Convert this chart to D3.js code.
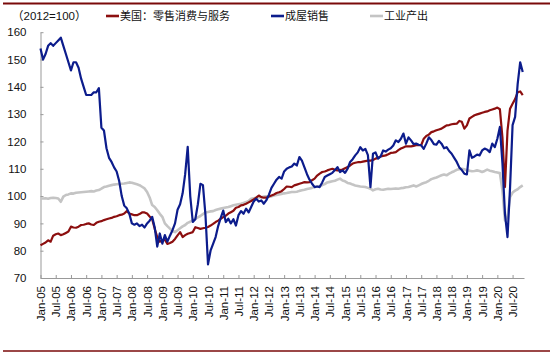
<!DOCTYPE html>
<html><head><meta charset="utf-8">
<script src="https://cdn.jsdelivr.net/npm/d3@7"></script>
<style>
html,body{margin:0;padding:0;background:#fff;}
svg{display:block;}
</style></head>
<body>
<svg id="c" width="550" height="355"></svg>
<script>
// Monthly data, Jan-2005 .. Nov-2020 (2012=100)
const tickLabels = ["Jan-05","Jul-05","Jan-06","Jul-06","Jan-07","Jul-07","Jan-08","Jul-08","Jan-09","Jul-09","Jan-10","Jul-10","Jan-11","Jul-11","Jan-12","Jul-12","Jan-13","Jul-13","Jan-14","Jul-14","Jan-15","Jul-15","Jan-16","Jul-16","Jan-17","Jul-17","Jan-18","Jul-18","Jan-19","Jul-19","Jan-20","Jul-20"];
const yTicks = [70,80,90,100,110,120,130,140,150,160];
const seriesNames = ["美国：零售消费与服务","成屋销售","工业产出"];

const retail = [
 82,82.5,83,83.8,83.3,85.5,86,86.3,85.7,86,
 86.5,87,88.8,88.5,88.4,88.8,89.4,89.5,89.8,90,
 89.6,89.4,90.2,90.6,90.8,91.2,91.5,91.8,92,92.4,
 92.6,93,93.2,93.6,94.5,93.6,93.3,93,93,93.4,
 94,94,93.6,92.5,91.5,88,85,83.3,83.8,84,
 82.5,82.8,83.3,84.3,85.6,86.8,85,85.7,86.2,86.5,
 86.8,88.6,88.3,88,88.2,88.4,88.7,89.2,89.8,90.5,
 91,91.7,92.3,92.8,93.6,94.1,94.6,95.7,96,96.6,
 96.8,97.2,97.7,98.2,98.8,99.4,100.2,99.6,99.4,99.4,
 99.8,100.2,100.6,101.1,101.4,101.8,102.6,103.5,103.4,103.3,
 103.9,104.2,104.5,104.8,105.1,105,105.1,105.8,106.4,107.5,
 108.2,108.8,109,109.4,109.7,110,109.6,109.4,109.5,109.7,
 110.2,110.6,111.2,111.9,112.2,112.4,112.4,112.6,112.8,113,
 113,113.2,113.7,114,114.5,114.7,114.9,115.3,115.8,115.9,
 116.1,116.8,117.4,117.8,118.2,118.2,118.2,118.4,118.6,118.6,
 118.6,121,122,122.5,123.4,123.7,124.1,124.4,124.7,125.3,
 125.9,126,126.3,126.4,126.5,127.5,127.2,124.7,125.9,128.4,
 129,129.6,129.9,130.2,130.5,130.8,131,131.4,131.7,132,
 132.4,131.8,121.5,103.3,124,132,133.8,135.5,138,138.3,
 137];

const homeSales = [
 154,150,152,155,156,155,156,157,158,155,
 152,149,146,149,149,147,143,140,137,137,
 137,138,138,139.5,125,124,117.5,114,112.5,110.5,
 109,105.5,100,96.5,95.5,93.5,90,89.5,90,89,
 89.5,88.5,90,91,92.4,88.5,81.5,86.3,82.6,85.7,
 83.3,85.5,87.5,90,95,97,101,108,118,100,
 90.5,91.5,97,104.5,104,93,75,80,82.5,85,
 89,92,94.7,90.5,91.7,90,91.5,89.2,93,94.5,
 93.5,95.4,94,96,98,99,98,98.4,97.2,98.5,
 100.5,103,104.5,106,107,106.4,109,110,110.5,110.8,
 111.9,111.2,114.3,113,110.5,108,106,104.5,103.3,103.5,
 103.3,105,107,107.5,108,108.5,109.5,110.6,108.8,109.4,
 108.5,110,112.5,113.5,114.9,116,117.9,116.7,117.3,115,
 103.3,115.5,116,113.7,114.5,116.7,116.3,117,117.5,118.5,
 120.4,119.8,121,122.9,119.2,121.5,120.4,119,119.2,118.8,
 118.6,117.3,119.2,121.5,120.5,119,118.8,120.2,119.2,117.5,
 117.9,116.5,115.5,114,112.5,110.5,109.5,108.2,107.9,116.7,
 114,114.5,115.2,114.9,116.7,117.4,117,116.1,119.2,117.9,
 121,125.3,112,93.5,85,103,126,129,141,149,
 145.4];

const industrial = [
 99.1,99.1,99.2,99,99.3,99.4,99.3,99.1,97.9,99.8,
 100.4,100.6,101,100.9,101.2,101.3,101.4,101.5,101.6,101.7,
 101.8,101.7,102,102.2,102.7,103.3,103.5,103.8,104,104.2,
 104.3,104.4,104.5,104.6,104.8,105,104.9,104.6,104.3,104,
 103.4,102.8,101.5,99.5,96.7,96,94.8,93.5,92.4,90,
 89,88.1,87.2,86.8,87.5,88.2,88.9,89.4,90.2,90.6,
 91.2,91.7,92.2,92.7,93.4,94,94.2,94.4,94.5,94.9,
 95.2,95.4,95.6,95.8,96,96.3,96.6,96.8,97,97.2,
 97.5,97.8,98.2,99,99.2,99.4,99.5,99.6,99.8,99.9,
 99.8,99.9,100.2,100.4,100.6,100.8,101,101.1,101.3,101.5,
 101.5,101.6,101.9,102.1,102.3,102.6,102.8,103,103.3,103.5,
 103.7,104,104.4,105,105.2,105.4,105.6,106,106.4,105.7,
 105.4,104.8,104.6,104.2,103.9,103.7,103.5,103.4,103.3,103,
 102.7,102.1,102.5,102.7,102.4,102.3,102.5,102.7,102.6,102.7,
 102.8,102.7,102.9,103,103.2,103.3,103.6,103.9,103.5,103.9,
 104.4,104.8,105.1,105.6,106.2,106.5,106.8,107.2,107.6,107.9,
 107.6,108.2,108.7,109.1,109.6,109.8,110,109.8,109.4,109.3,
 109.1,109.2,109.4,109.2,108.8,109.2,109.7,109.3,109.1,108.8,
 108.6,108.4,102.1,91.1,92.5,99.6,101.3,102,102.5,103.3,
 103.9];

const colors = ["#8c0f0f","#0c1c8c","#c4c4c4"];
const svg = d3.select("#c");
const FONT = "'Liberation Sans', Arial, 'Noto Sans CJK SC', sans-serif";

// frame rules
svg.append("line").attr("x1",3).attr("x2",550).attr("y1",3.5).attr("y2",3.5)
  .attr("stroke","#7a0a0a").attr("stroke-width",2);
svg.append("line").attr("x1",3).attr("x2",550).attr("y1",351).attr("y2",351)
  .attr("stroke","#7a0a0a").attr("stroke-width",1.5);

const x = d3.scaleLinear().domain([0,190.5]).range([40.5,524]);
const y = d3.scaleLinear().domain([70,160]).range([278,32.2]);

// Y axis
const yAxis = svg.append("g").attr("transform","translate(40.5,0)")
  .call(d3.axisLeft(y).tickValues(yTicks).tickSize(-3).tickSizeOuter(0).tickPadding(14).tickFormat(d3.format("d")));
yAxis.selectAll("path,line").attr("stroke","#999");
yAxis.selectAll("text").attr("font-family",FONT).attr("font-size",11.5).attr("fill","#111");

// X axis
const xTickVals = tickLabels.map((d,i)=>i*6);
const xAxis = svg.append("g").attr("transform","translate(0,278)")
  .call(d3.axisBottom(x).tickValues(xTickVals).tickSize(-3).tickSizeOuter(0)
    .tickFormat((d,i)=>tickLabels[i]));
xAxis.selectAll("path,line").attr("stroke","#999");
xAxis.selectAll("text").attr("font-family",FONT).attr("font-size",11.5).attr("fill","#111")
  .attr("transform","rotate(-90)").attr("text-anchor","end")
  .attr("x",-8).attr("y",0).attr("dy","0.35em");

// lines
const line = d3.line().x((d,i)=>x(i)).y(d=>y(d));
const order = [[industrial,2,2.6],[retail,0,2.2],[homeSales,1,2.2]];
order.forEach(([data,ci,w])=>{
  svg.append("path").datum(data).attr("d",line).attr("fill","none")
    .attr("stroke",colors[ci]).attr("stroke-width",w).attr("stroke-linejoin","round");
});

// header text + legend
svg.append("text").attr("x",12).attr("y",20).attr("font-family",FONT).attr("font-size",11.5)
  .attr("fill","#111").text("（2012=100）");
const legX = [106,271,370];
seriesNames.forEach((n,i)=>{
  svg.append("line").attr("x1",legX[i]).attr("x2",legX[i]+13).attr("y1",16).attr("y2",16)
    .attr("stroke",colors[i]).attr("stroke-width",2.6);
  svg.append("text").attr("x",legX[i]+14).attr("y",20).attr("font-family","'Noto Sans CJK SC', sans-serif")
    .attr("font-size",11).attr("fill","#111").text(n);
});
</script>
</body></html>
